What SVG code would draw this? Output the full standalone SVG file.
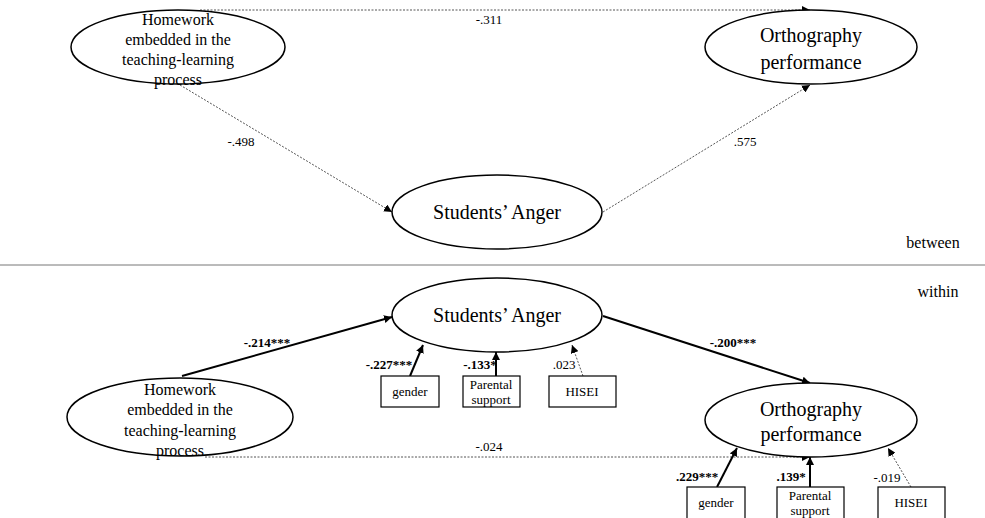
<svg xmlns="http://www.w3.org/2000/svg" width="985" height="518" viewBox="0 0 985 518">
<defs>
<marker id="ah" viewBox="0 0 10 10" refX="10" refY="5" markerWidth="8" markerHeight="8" markerUnits="userSpaceOnUse" orient="auto">
<path d="M0,0 L10,5 L0,10 z" fill="#000"/>
</marker>
<style>
.ell{fill:#fff;stroke:#000;stroke-width:1.5}
.box{fill:#fff;stroke:#000;stroke-width:1.2}
.t{font-family:"Liberation Serif",serif;fill:#000;text-anchor:middle}
.big{font-size:20px}
.mid{font-size:16px}
.sm{font-size:13px}
.lab{font-family:"Liberation Serif",serif;font-size:13px;fill:#000;text-anchor:middle}
.b{font-weight:bold;font-size:13px}
.dot{fill:none;stroke:#555;stroke-width:1;stroke-dasharray:2,1.5}
.sol{fill:none;stroke:#000;stroke-width:2}
</style>
</defs>
<rect width="985" height="518" fill="#fff"/>
<g id="connectors">
<line class="dot" x1="200" y1="10" x2="810" y2="10" marker-end="url(#ah)"/>
<line class="dot" x1="180" y1="85" x2="392" y2="212" marker-end="url(#ah)"/>
<line class="dot" x1="603" y1="212" x2="810" y2="85" marker-end="url(#ah)"/>
<line class="sol" x1="182" y1="376" x2="392" y2="317" marker-end="url(#ah)"/>
<line class="sol" x1="603" y1="316" x2="810" y2="383" marker-end="url(#ah)"/>
<line class="dot" x1="205" y1="457" x2="810" y2="457" marker-end="url(#ah)"/>
<line class="sol" x1="410" y1="376" x2="423" y2="345" marker-end="url(#ah)"/>
<line class="sol" x1="496" y1="376" x2="496" y2="352" marker-end="url(#ah)"/>
<line class="dot" x1="583" y1="376" x2="572" y2="345" marker-end="url(#ah)"/>
<line class="sol" x1="717" y1="487" x2="737" y2="448" marker-end="url(#ah)"/>
<line class="sol" x1="810" y1="487" x2="810" y2="457" marker-end="url(#ah)"/>
<line class="dot" x1="911" y1="487" x2="888" y2="448" marker-end="url(#ah)"/>
<text class="lab" x="489" y="24">-.311</text>
<text class="lab" x="241" y="146">-.498</text>
<text class="lab" x="745" y="146">.575</text>
<text class="lab b" x="267" y="347">-.214***</text>
<text class="lab b" x="733" y="347">-.200***</text>
<text class="lab" x="489" y="451">-.024</text>
<text class="lab b" x="389" y="369">-.227***</text>
<text class="lab b" x="480" y="369">-.133*</text>
<text class="lab" x="564" y="369">.023</text>
<text class="lab b" x="697" y="481">.229***</text>
<text class="lab b" x="791" y="481">.139*</text>
<text class="lab" x="887" y="482">-.019</text>
</g>
<line x1="0" y1="265" x2="985" y2="265" stroke="#777" stroke-width="1"/>
<text class="t mid" x="933" y="248">between</text>
<text class="t mid" x="938" y="297">within</text>
<g id="homework-between">
<ellipse class="ell" cx="178" cy="47" rx="107" ry="37"/>
<text class="t mid" x="178" y="25">Homework</text>
<text class="t mid" x="178" y="45">embedded in the</text>
<text class="t mid" x="178" y="65">teaching-learning</text>
<text class="t mid" x="178" y="85">process</text>
</g>
<g id="ortho-between">
<ellipse class="ell" cx="811" cy="47" rx="106" ry="37"/>
<text class="t big" x="811" y="42">Orthography</text>
<text class="t big" x="811" y="69">performance</text>
</g>
<g id="anger-between">
<ellipse class="ell" cx="497" cy="212" rx="105" ry="37"/>
<text class="t big" x="497" y="219">Students’ Anger</text>
</g>
<g id="anger-within">
<ellipse class="ell" cx="497" cy="315" rx="105" ry="37"/>
<text class="t big" x="497" y="322">Students’ Anger</text>
</g>
<g id="homework-within">
<ellipse class="ell" cx="180" cy="417" rx="113" ry="39"/>
<text class="t mid" x="180" y="395">Homework</text>
<text class="t mid" x="180" y="415">embedded in the</text>
<text class="t mid" x="180" y="436">teaching-learning</text>
<text class="t mid" x="180" y="456">process</text>
</g>
<g id="ortho-within">
<ellipse class="ell" cx="811" cy="420" rx="106" ry="37"/>
<text class="t big" x="811" y="416">Orthography</text>
<text class="t big" x="811" y="441">performance</text>
</g>
<g id="gender-1">
<rect class="box" x="381" y="376" width="58" height="31"/>
<text class="t sm" x="410" y="396">gender</text>
</g>
<g id="parental-1">
<rect class="box" x="463" y="376" width="57" height="31"/>
<text class="t sm" x="491" y="389">Parental</text>
<text class="t sm" x="491" y="404">support</text>
</g>
<g id="hisei-1">
<rect class="box" x="549" y="376" width="67" height="31"/>
<text class="t sm" x="582" y="396">HISEI</text>
</g>
<g id="gender-2">
<rect class="box" x="687" y="487" width="58" height="34"/>
<text class="t sm" x="716" y="507">gender</text>
</g>
<g id="parental-2">
<rect class="box" x="777" y="487" width="67" height="34"/>
<text class="t sm" x="810" y="500">Parental</text>
<text class="t sm" x="810" y="515">support</text>
</g>
<g id="hisei-2">
<rect class="box" x="878" y="487" width="67" height="34"/>
<text class="t sm" x="911" y="507">HISEI</text>
</g>
</svg>
